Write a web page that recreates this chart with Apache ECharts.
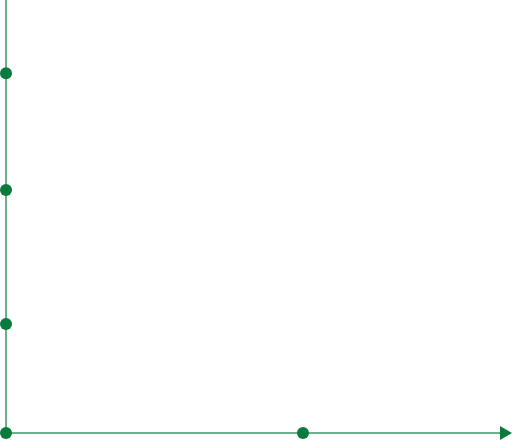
<!DOCTYPE html>
<html><head><meta charset="utf-8">
<script src="https://cdn.jsdelivr.net/npm/echarts@6/dist/echarts.min.js"></script>
<style>html,body{margin:0;padding:0;background:#fff}#c{width:512px;height:442px}</style>
</head><body><div id="c"></div>
<script>
const xValues = [0, 59.4, 0, 0, 0];
const yValues = [0, 0, 25.2, 56.1, 83.1];
const xRange = [0, 100];
const yRange = [0, 100];
const points = xValues.map((x, i) => [x, yValues[i]]);
const lineColor = 'rgba(11,122,62,0.6)';
const dotColor = '#0b7a3e';
const chart = echarts.init(document.getElementById('c'));
chart.setOption({
  animation: false,
  grid: {left: 6, right: 6, top: 0, bottom: 9},
  xAxis: {
    type: 'value', min: xRange[0], max: xRange[1],
    axisLine: {show: true, onZero: false, lineStyle: {color: lineColor, width: 2}},
    axisTick: {show: false}, axisLabel: {show: false}, splitLine: {show: false}
  },
  yAxis: {
    type: 'value', min: yRange[0], max: yRange[1],
    axisLine: {show: true, onZero: false, lineStyle: {color: lineColor, width: 2}},
    axisTick: {show: false}, axisLabel: {show: false}, splitLine: {show: false}
  },
  series: [{
    type: 'scatter', clip: false, symbolSize: 12,
    itemStyle: {color: dotColor, opacity: 1},
    data: points,
    markPoint: {
      silent: true,
      symbol: 'triangle', symbolRotate: -90, symbolSize: [14, 12],
      itemStyle: {color: dotColor},
      label: {show: false},
      data: [{coord: [xRange[1], yRange[0]]}]
    }
  }]
});
</script></body></html>
